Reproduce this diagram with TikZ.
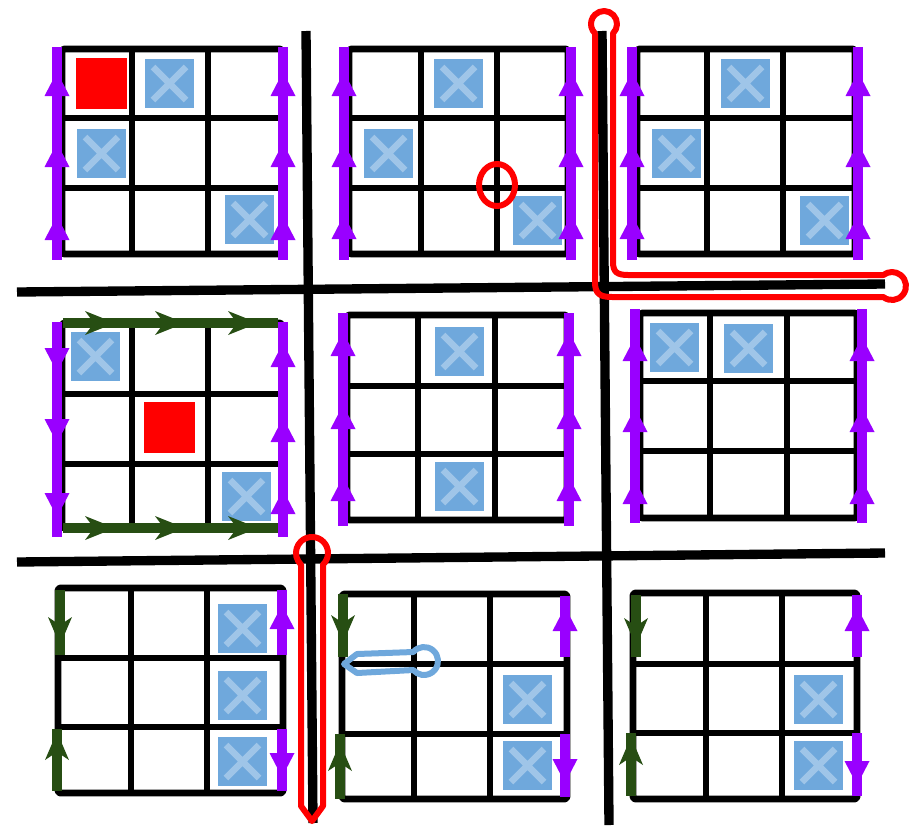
\documentclass[tikz,border=0pt]{standalone}
\definecolor{purp}{HTML}{9900FF}
\definecolor{dgreen}{HTML}{274E13}
\definecolor{bbox}{HTML}{6FA8DC}
\definecolor{bxm}{HTML}{9FC5E8}
\tikzset{
 gridl/.style={line width=5.2pt, black, line join=round},
 sepl/.style={line width=7pt, black},
 purpl/.style={line width=8pt, purp},
 grnl/.style={line width=8pt, dgreen},
 redl/.style={line width=4.5pt, red, line join=round},
 bluel/.style={line width=4.5pt, bbox, line join=round},
 bluebox/.style={fill=bbox, draw=white, line width=1.5pt},
 xmark/.style={line width=5pt, bxm},
 pup/.pic={\fill[purp] (0,0) -- (-12.5,24) -- (12.5,24) -- cycle;},
 pdown/.pic={\fill[purp] (0,0) -- (-12.5,-24) -- (12.5,-24) -- cycle;},
 gright/.pic={\fill[dgreen] (0,0) -- (-30,-12) -- (-21,0) -- (-30,12) -- cycle;},
 gdown/.pic={\fill[dgreen] (0,0) -- (-12,-28) -- (0,-20) -- (12,-28) -- cycle;},
 gup/.pic={\fill[dgreen] (0,0) -- (-12,28) -- (0,20) -- (12,28) -- cycle;},
}
\newcommand{\PanelGrid}[8]{%
 \draw[gridl, rounded corners=2pt] (#1,#3) rectangle (#2,#4);
 \draw[gridl] (#5,#3) -- (#5,#4) (#6,#3) -- (#6,#4) (#1,#7) -- (#2,#7) (#1,#8) -- (#2,#8);}
\newcommand{\BlueX}[2]{%
 \draw[bluebox] (#1,#2) rectangle ++(51,51);
 \draw[xmark] (#1+9,#2+9) -- (#1+42,#2+42) (#1+42,#2+9) -- (#1+9,#2+42);}
\newcommand{\PurpThreeUp}[6]{%
 \draw[purpl] (#1,#2) -- (#1,#3);
 \pic at (#1,#4) {pup}; \pic at (#1,#5) {pup}; \pic at (#1,#6) {pup};}
\begin{document}
\begin{tikzpicture}[x=0.75pt,y=-0.75pt]
\fill[white] (0,0) rectangle (923,832);
\useasboundingbox (0,0) rectangle (923,832);

% separators
\draw[sepl] (306,31) -- (313,823);
\draw[sepl] (602,31) -- (609,825);
\draw[sepl] (17,292) -- (885,284);
\draw[sepl] (17,562) -- (885,553);

% grids
\PanelGrid{62}{282}{49}{254}{132}{208}{118}{188}
\PanelGrid{349}{568}{49}{254}{421}{497}{118}{188}
\PanelGrid{637}{855}{49}{254}{707}{783}{118}{188}
\PanelGrid{62}{282}{323}{528}{132}{208}{394}{464}
\PanelGrid{347}{567}{315}{520}{418}{495}{386}{454}
\PanelGrid{640}{857}{313}{518}{710}{787}{381}{451}
\PanelGrid{58}{283}{588}{793}{131}{207}{658}{727}
\PanelGrid{342}{567}{594}{799}{414}{490}{664}{734}
\PanelGrid{633}{857}{593}{799}{706}{782}{664}{733}

% red squares
\fill[red] (76,58) rectangle ++(51,51);
\fill[red] (144,402) rectangle ++(51,51);

% blue crossed boxes
\BlueX{144}{58}\BlueX{76}{128}\BlueX{224}{194}
\BlueX{433}{58}\BlueX{363}{128}\BlueX{512}{195}
\BlueX{720}{58}\BlueX{651}{128}\BlueX{799}{195}
\BlueX{70}{331}\BlueX{221}{471}
\BlueX{434}{326}\BlueX{434}{461}
\BlueX{649}{322}\BlueX{723}{323}
\BlueX{217}{603}\BlueX{217}{670}\BlueX{217}{736}
\BlueX{502}{674}\BlueX{502}{740}
\BlueX{793}{674}\BlueX{793}{740}

% top row purple
\PurpThreeUp{57}{47}{260}{72}{143}{216}
\PurpThreeUp{283}{47}{260}{72}{143}{216}
\PurpThreeUp{344}{47}{260}{72}{143}{215}
\PurpThreeUp{571}{47}{260}{72}{143}{215}
\PurpThreeUp{632}{47}{260}{72}{143}{215}
\PurpThreeUp{858}{47}{260}{72}{143}{215}

% middle row
\draw[purpl] (57,322) -- (57,537);
\pic at (57,372) {pdown}; \pic at (57,443) {pdown}; \pic at (57,517) {pdown};
\PurpThreeUp{283}{322}{537}{343}{418}{490}
\draw[grnl] (63,323) -- (278,323);
\pic at (115,323) {gright}; \pic at (185,323) {gright}; \pic at (258,323) {gright};
\draw[grnl] (63,528) -- (278,528);
\pic at (115,528) {gright}; \pic at (185,528) {gright}; \pic at (258,528) {gright};
\PurpThreeUp{343}{313}{526}{332}{405}{477}
\PurpThreeUp{569}{313}{526}{332}{405}{477}
\PurpThreeUp{635}{309}{523}{337}{408}{480}
\PurpThreeUp{862}{309}{523}{337}{408}{480}

% bottom row
\draw[grnl] (60,590) -- (60,655); \pic at (60,645) {gdown};
\draw[grnl] (57,729) -- (57,791); \pic at (57,732) {gup};
\draw[purpl] (282,590) -- (282,655); \pic at (282,605) {pup};
\draw[purpl] (282,729) -- (282,791); \pic at (282,777) {pdown};

\draw[grnl] (343,594) -- (343,657); \pic at (343,643) {gdown};
\draw[grnl] (340,734) -- (340,799); \pic at (340,743) {gup};
\draw[purpl] (565,596) -- (565,657); \pic at (565,607) {pup};
\draw[purpl] (565,734) -- (565,797); \pic at (565,783) {pdown};

\draw[grnl] (636,595) -- (636,657); \pic at (636,646) {gdown};
\draw[grnl] (631,733) -- (631,796); \pic at (631,737) {gup};
\draw[purpl] (857,595) -- (857,657); \pic at (857,607) {pup};
\draw[purpl] (857,733) -- (857,796); \pic at (857,785) {pdown};

% highlight loops
\draw[redl] (497,185) ellipse[x radius=18, y radius=21];
\draw[redl] (595,33.4) -- (595,282) .. controls (595,294) and (600,297) .. (612,297)
  -- (883.3,297) arc[start angle=128.3, end angle=-128.3, radius=14]
  -- (628,275) .. controls (617,275) and (613,272) .. (613,262)
  -- (613,33.4) arc[start angle=46.2, end angle=-226.2, radius=13] -- cycle;
\draw[redl] (301,564.6) -- (301,806) -- (312,821) -- (323,806) -- (323,564.6)
  arc[start angle=46.5, end angle=-226.5, radius=16] -- cycle;
\draw[bluel] (344,664) -- (357,654) -- (413.3,652)
  arc[start angle=-140, end angle=140, radius=14] -- (357,673) -- cycle;
\end{tikzpicture}
\end{document}
